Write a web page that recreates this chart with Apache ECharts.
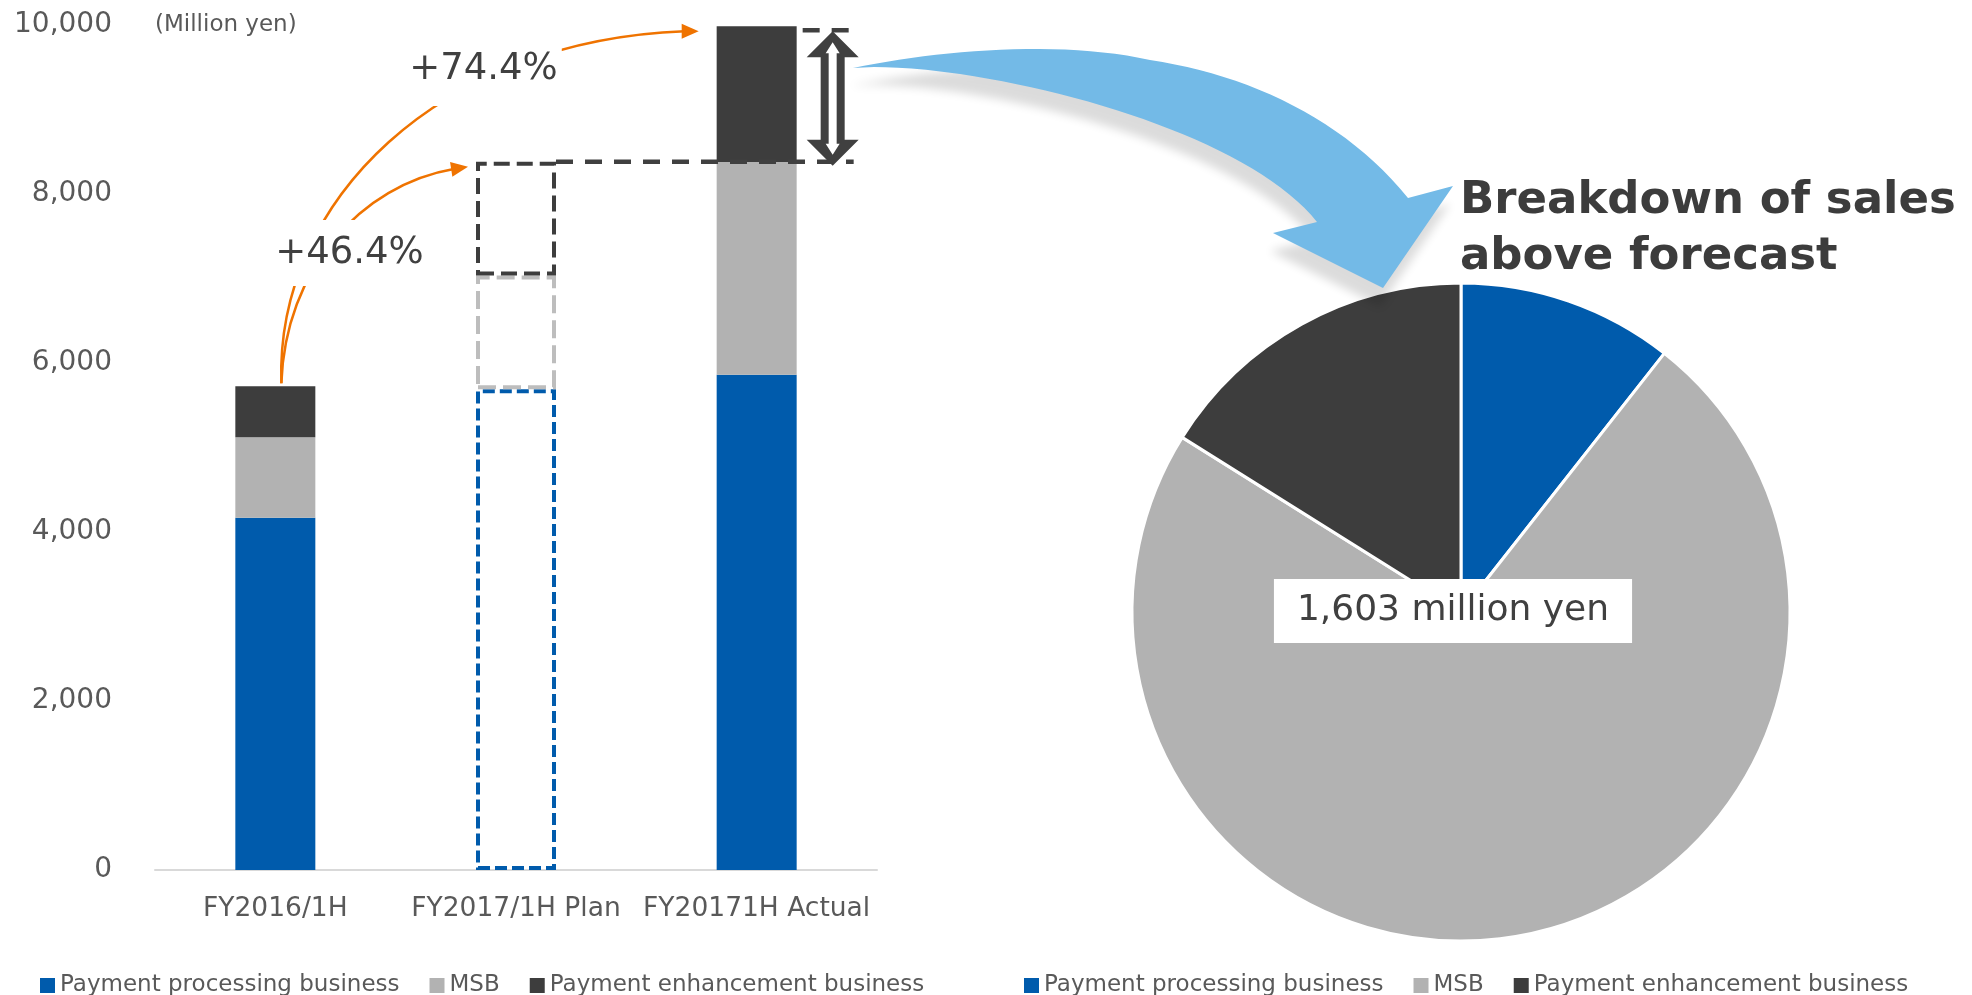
<!DOCTYPE html>
<html>
<head>
<meta charset="utf-8">
<script src="https://cdn.jsdelivr.net/npm/echarts@6/dist/echarts.min.js"></script>
<style>
  html, body { margin: 0; padding: 0; background: #ffffff; }
  #main { width: 1972px; height: 995px; }
</style>
</head>
<body>
<div id="main"></div>
<script>
// Half-year sales by business segment (million yen)
const categories = ['FY2016/1H', 'FY2017/1H Plan', 'FY20171H Actual'];
const segmentNames = ['Payment processing business', 'MSB', 'Payment enhancement business'];
const processingSales = [4170, 5690, 5860];
const msbSales = [950, 1345, 2520];
const enhancementSales = [605, 1346, 1604];
// Sales above the plan, by segment (million yen)
const aboveForecast = [170, 1175, 258];

const FONT = '"DejaVu Sans", Verdana, sans-serif';
const segmentColors = ['#005BAC', '#B2B2B2', '#3D3D3D'];
const planBorderColors = ['#005BAC', '#BDBDBD', '#3D3D3D'];
const planDashes = [[12, 5], [18, 7], [16, 7]];
const PLAN_INDEX = 1;
const BAR_WIDTH = 80;
const PIE_CENTER = [1461, 612];
const PIE_RADIUS = 329;

const segmentValues = [processingSales, msbSales, enhancementSales];

const barSeries = segmentNames.map((name, s) => ({
  type: 'bar',
  name: name,
  stack: 'sales',
  barWidth: BAR_WIDTH,
  itemStyle: { color: segmentColors[s] },
  emphasis: { disabled: true },
  data: segmentValues[s].map((v, i) => i === PLAN_INDEX ? {
    value: v,
    itemStyle: {
      color: 'rgba(255,255,255,0)',
      borderColor: planBorderColors[s],
      borderWidth: 4,
      borderType: planDashes[s]
    }
  } : v)
}));

const pieSeries = {
  type: 'pie',
  center: PIE_CENTER,
  radius: PIE_RADIUS,
  startAngle: 90,
  clockwise: true,
  silent: true,
  label: { show: false },
  labelLine: { show: false },
  itemStyle: { borderColor: '#ffffff', borderWidth: 3 },
  emphasis: { disabled: true },
  data: segmentNames.map((n, i) => ({ name: n, value: aboveForecast[i], itemStyle: { color: segmentColors[i] } }))
};

const legendCommon = {
  orient: 'horizontal',
  top: 969,
  icon: 'rect',
  itemWidth: 15,
  itemHeight: 15,
  itemGap: 30,
  selectedMode: false,
  textStyle: { fontFamily: FONT, fontSize: 23, color: '#595959' },
  data: segmentNames
};

const chart = echarts.init(document.getElementById('main'), null, { renderer: 'canvas' });

chart.setOption({
  animation: false,
  backgroundColor: '#ffffff',
  textStyle: { fontFamily: FONT },
  title: {
    text: 'Breakdown of sales\nabove forecast',
    left: 1460,
    top: 173,
    padding: 0,
    textStyle: { fontFamily: FONT, fontSize: 45, fontWeight: 'bold', color: '#3C3C3C', lineHeight: 56 }
  },
  legend: [
    Object.assign({ left: 35 }, legendCommon),
    Object.assign({ left: 1019 }, legendCommon)
  ],
  grid: { left: 155, top: 25, width: 722, height: 845, containLabel: false },
  xAxis: {
    type: 'category',
    data: categories,
    axisLine: { show: true, lineStyle: { color: '#D9D9D9', width: 2 } },
    axisTick: { show: false },
    axisLabel: { interval: 0, fontFamily: FONT, fontSize: 26.5, color: '#595959', margin: 26 }
  },
  yAxis: {
    type: 'value',
    min: 0,
    max: 10000,
    interval: 2000,
    name: '(Million yen)',
    nameLocation: 'end',
    nameGap: 0,
    nameTextStyle: { fontFamily: FONT, fontSize: 23, color: '#595959', align: 'left', verticalAlign: 'middle' },
    axisLine: { show: false },
    axisTick: { show: false },
    splitLine: { show: false },
    axisLabel: {
      fontFamily: FONT, fontSize: 28, color: '#595959', margin: 43,
      formatter: v => v.toLocaleString('en-US')
    }
  },
  series: barSeries.concat([pieSeries])
});

// Annotations anchored to the bar tops
const totals = categories.map((_, i) => processingSales[i] + msbSales[i] + enhancementSales[i]);
const px = (i, v) => chart.convertToPixel({ gridIndex: 0 }, [i, v]);
const [c0, t0] = px(0, totals[0]);
const [c1, t1] = px(1, totals[1]);
const [c2, t2] = px(2, totals[2]);
const half = BAR_WIDTH / 2;

const ORANGE = '#EF7300';
const DARK = '#404040';

function arrowHead(tip, from, len, hw) {
  const dx = tip[0] - from[0], dy = tip[1] - from[1];
  const d = Math.hypot(dx, dy);
  const ux = dx / d, uy = dy / d;
  const bx = tip[0] - ux * len, by = tip[1] - uy * len;
  return [tip, [bx - uy * hw, by + ux * hw], [bx + uy * hw, by - ux * hw]];
}

// Sample a cubic Bezier into points (end point excluded)
function cubicPoints(p0, p1, p2, p3, n) {
  const pts = [];
  for (let k = 0; k < n; k++) {
    const t = k / n, u = 1 - t;
    const a = u * u * u, b = 3 * u * u * t, c = 3 * u * t * t, d = t * t * t;
    pts.push([a * p0[0] + b * p1[0] + c * p2[0] + d * p3[0], a * p0[1] + b * p1[1] + c * p2[1] + d * p3[1]]);
  }
  return pts;
}

// Growth arrows from last year's total to the plan and actual totals
const start = [c0 + 6, t0 - 3];
const tipA = [c1 - half - 8, t1 + 5];
const tipB = [c2 - half - 18, t2 + 5];
const curveA = { x1: start[0], y1: start[1], cpx1: start[0] + 4, cpy1: start[1] - 113,
  cpx2: tipA[0] - 108, cpy2: tipA[1] + 18, x2: tipA[0] - 13, y2: tipA[1] + 2 };
const curveB = { x1: start[0], y1: start[1], cpx1: start[0] - 6, cpy1: start[1] - 183,
  cpx2: tipB[0] - 259, cpy2: tipB[1] + 9, x2: tipB[0] - 14, y2: tipB[1] };

const growthPlan = '+' + ((totals[1] / totals[0] - 1) * 100).toFixed(1) + '%';
const growthActual = '+' + ((totals[2] / totals[0] - 1) * 100).toFixed(1) + '%';
const aboveTotal = aboveForecast.reduce((a, b) => a + b, 0);

// Double-headed arrow between plan total and actual total
const ax = c2 + half + 36;
const aTop = t2 + 5, aBot = t1 + 4;
const outerArrow = [
  [ax, aTop], [ax + 26, aTop + 26], [ax + 12, aTop + 26], [ax + 12, aBot - 26], [ax + 26, aBot - 26],
  [ax, aBot], [ax - 26, aBot - 26], [ax - 12, aBot - 26], [ax - 12, aTop + 26], [ax - 26, aTop + 26]
];
const innerArrow = [
  [ax, aTop + 11], [ax + 7, aTop + 22], [ax + 4, aTop + 22], [ax + 4, aBot - 22], [ax + 7, aBot - 22],
  [ax, aBot - 11], [ax - 7, aBot - 22], [ax - 4, aBot - 22], [ax - 4, aTop + 22], [ax - 7, aTop + 22]
];

// Sweeping arrow from the bar chart to the pie
const bigArrow = []
  .concat(cubicPoints([853, 68], [940, 50], [1060, 40], [1150, 60], 24))
  .concat(cubicPoints([1150, 60], [1250, 75], [1345, 120], [1408, 198], 24))
  .concat([[1408, 198], [1453, 186], [1383, 288], [1273, 233]])
  .concat(cubicPoints([1317, 222], [1260, 150], [1100, 95], [960, 74], 30))
  .concat(cubicPoints([960, 74], [910, 67], [880, 66], [853, 68], 8));

chart.setOption({
  graphic: [
    {
      type: 'polygon', z: 5, silent: true,
      shape: { points: bigArrow },
      style: { fill: '#73BAE7', shadowBlur: 10, shadowOffsetX: -3, shadowOffsetY: 18, shadowColor: 'rgba(0,0,0,0.14)' }
    },
    {
      type: 'line', z: 6, silent: true,
      shape: { x1: c1 + half, y1: t1, x2: c2 + half + 57, y2: t1 },
      style: { stroke: DARK, lineWidth: 4.5, lineDash: [17, 12] }
    },
    {
      type: 'line', z: 6, silent: true,
      shape: { x1: c2 + half + 6, y1: t2 + 4, x2: c2 + half + 57, y2: t2 + 4 },
      style: { stroke: DARK, lineWidth: 4.5, lineDash: [17, 12] }
    },
    { type: 'polygon', z: 7, silent: true, shape: { points: outerArrow }, style: { fill: DARK } },
    { type: 'polygon', z: 8, silent: true, shape: { points: innerArrow }, style: { fill: '#ffffff' } },
    { type: 'bezierCurve', z: 6, silent: true, shape: curveA, style: { stroke: ORANGE, lineWidth: 2.5, fill: null } },
    { type: 'bezierCurve', z: 6, silent: true, shape: curveB, style: { stroke: ORANGE, lineWidth: 2.5, fill: null } },
    { type: 'polygon', z: 6, silent: true, shape: { points: arrowHead(tipA, [curveA.x2, curveA.y2], 17, 7.5) }, style: { fill: ORANGE } },
    { type: 'polygon', z: 6, silent: true, shape: { points: arrowHead(tipB, [curveB.x2, curveB.y2], 17, 7.5) }, style: { fill: ORANGE } },
    {
      type: 'text', z: 9, silent: true, x: 349.5, y: 253,
      style: { text: growthPlan, fontFamily: FONT, fontSize: 37, lineHeight: 40, fill: DARK,
        align: 'center', verticalAlign: 'middle', backgroundColor: '#ffffff', padding: [13, 4, 13, 4] }
    },
    {
      type: 'text', z: 9, silent: true, x: 483.5, y: 69,
      style: { text: growthActual, fontFamily: FONT, fontSize: 37, lineHeight: 40, fill: DARK,
        align: 'center', verticalAlign: 'middle', backgroundColor: '#ffffff', padding: [18, 4, 16, 4] }
    },
    {
      type: 'text', z: 9, silent: true, x: PIE_CENTER[0] - 8, y: PIE_CENTER[1] - 1,
      style: { text: aboveTotal.toLocaleString('en-US') + ' million yen', fontFamily: FONT, fontSize: 36, lineHeight: 40,
        fill: DARK, align: 'center', verticalAlign: 'middle', backgroundColor: '#ffffff', padding: [12, 23, 12, 23] }
    }
  ]
});
</script>
</body>
</html>
